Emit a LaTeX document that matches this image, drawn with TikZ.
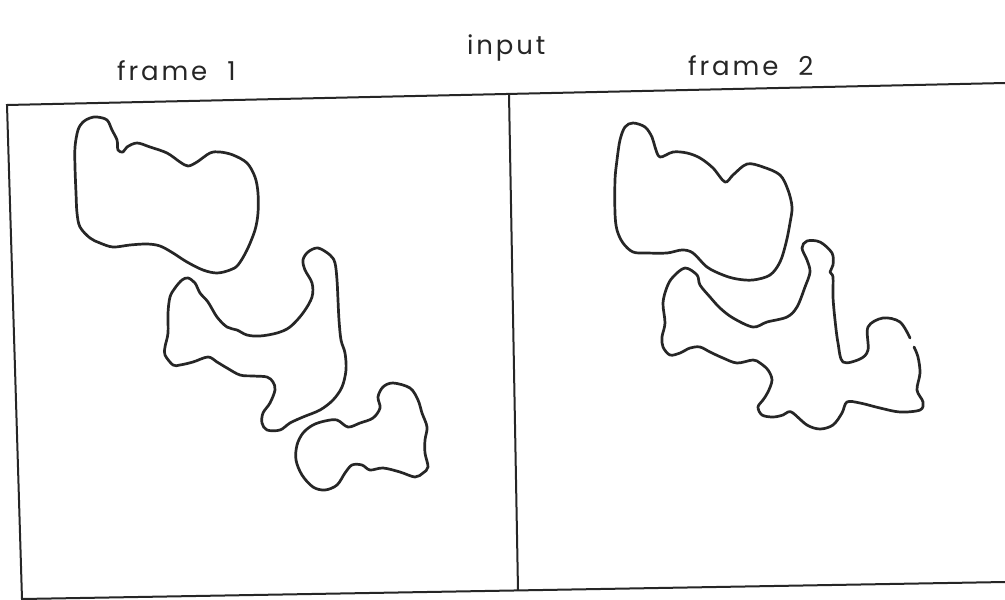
\documentclass[tikz,border=0pt]{standalone}
\usepackage{fontspec}
\setmainfont{Poppins}
\begin{document}
\begin{tikzpicture}[x=1pt,y=-1pt,
  outline/.style={draw=black!85, line width=2.7pt, line join=round, line cap=round},
  border/.style={draw=black!85, line width=2pt, line join=miter},
  lbl/.style={inner sep=0pt, anchor=base west, text=black!85,
    font=\fontsize{26}{30}\selectfont\addfontfeature{LetterSpace=11}}]
\useasboundingbox[fill=white] (0,0) rectangle (1005,600);

% titles
\node[lbl] (title) at (467,54) {input};
\node[lbl] (lab1) at (117,80) {frame\hspace{20pt}1};
\node[lbl] (lab2) at (688,75) {frame\hspace{20pt}2};

% the two frames (slightly skewed plot)
\coordinate (tl) at (7,105);
\coordinate (tr) at (1005,83);
\coordinate (bl) at (22,599);
\coordinate (br) at (1005,582);
\coordinate (dt) at (509,94);
\coordinate (db) at (518,590);
\draw[border] (tr) -- (tl) -- (bl) -- (br);
\draw[border] (dt) -- (db);

% frame 1: upper blob
\draw[outline] plot[smooth cycle, tension=0.55] coordinates {
 (97,117) (107,120) (112,130) (117,140) (118,150) (123,152) (127,147)
 (137,143) (150,147) (167,153) (180,162) (188,166) (197,162) (210,153)
 (220,152) (233,155) (247,163) (255,177) (258,193) (258,213) (255,230)
 (247,250) (238,265) (230,270) (217,273) (203,270) (187,262) (173,253)
 (160,246) (147,244) (130,245) (113,247) (100,243) (90,238) (80,227)
 (77,213) (76,193) (75,167) (75,147) (78,130) (83,122) (90,118)};

% frame 1: middle blob
\draw[outline] plot[smooth cycle, tension=0.55] coordinates {
 (188,278) (195,283) (200,293) (208,302) (217,317) (227,327) (237,330)
 (247,335) (260,336) (277,333) (290,327) (303,313) (312,297) (312,283)
 (305,270) (303,260) (308,252) (318,248) (330,255) (335,263) (337,280)
 (338,300) (339,320) (341,340) (345,353) (346,370) (342,387) (333,400)
 (320,410) (303,417) (290,423) (280,430) (267,430) (262,423) (263,413)
 (270,403) (275,390) (273,382) (267,377) (253,376) (240,375) (227,368)
 (217,362) (208,357) (193,362) (180,365) (173,365) (165,355) (165,347)
 (168,333) (168,313) (170,297) (175,288) (182,280)};

% frame 1: lower blob
\draw[outline] plot[smooth cycle, tension=0.55] coordinates {
 (393,383) (410,388) (418,400) (422,413) (427,427) (425,440) (425,453)
 (428,467) (423,473) (415,477) (400,472) (383,468) (370,470) (362,465)
 (352,465) (345,473) (337,485) (325,490) (313,487) (302,475) (296,460)
 (297,445) (303,433) (313,425) (325,421) (337,420) (348,427) (360,423)
 (373,418) (380,408) (378,397) (383,387)};

% frame 2: upper blob
\draw[outline] plot[smooth cycle, tension=0.55] coordinates {
 (633,123) (645,127) (652,137) (655,147) (660,157) (673,152) (687,153)
 (700,158) (713,168) (725,182) (733,175) (747,164) (763,167) (780,175)
 (788,190) (792,207) (790,223) (786,243) (780,262) (770,275) (753,280)
 (737,279) (723,275) (707,267) (693,253) (682,250) (667,253) (647,253)
 (633,252) (623,243) (617,230) (615,213) (615,180) (617,160) (620,140)
 (625,127)};

% frame 2: merged lower blob (outline broken on the right)
\draw[outline] plot[smooth, tension=0.55] coordinates {
 (914,347) (918,357) (920,373) (917,390) (923,402) (920,410) (900,412)
 (880,408) (860,403) (847,402) (842,413) (833,425) (820,429) (807,425)
 (793,413) (788,412) (783,415) (773,417) (762,415) (758,407) (763,400)
 (768,392) (772,380) (768,370) (760,363) (753,360) (737,363) (723,358)
 (710,352) (700,347) (690,348) (680,353) (670,355) (663,347) (662,337)
 (665,323) (663,303) (667,287) (673,277) (685,268) (697,275) (700,285)
 (710,297) (720,308) (733,318) (753,327) (767,322) (787,317) (797,307)
 (805,287) (810,272) (807,260) (802,248) (807,241) (820,242) (832,253)
 (833,265) (830,272) (833,277) (833,297) (835,320) (838,343) (843,362)
 (860,359) (868,350) (868,327) (883,318) (900,322) (910,338)};
\end{tikzpicture}
\end{document}
